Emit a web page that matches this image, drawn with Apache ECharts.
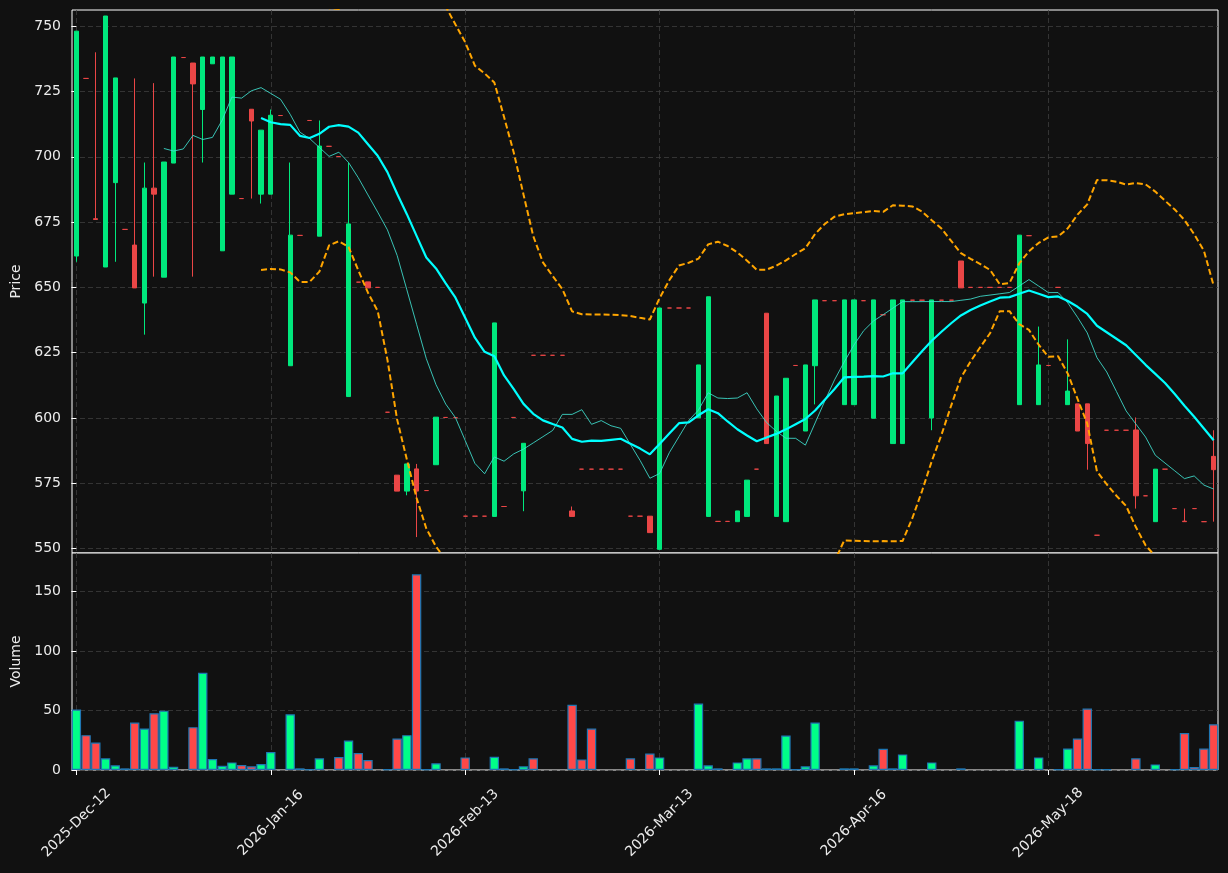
<!DOCTYPE html>
<html>
<head>
<meta charset="utf-8">
<title>Price and volume</title>
<script src="https://cdn.jsdelivr.net/npm/echarts@6/dist/echarts.min.js"></script>
<style>
    html, body { margin: 0; padding: 0; background: #111111; }
    #chart { width: 1228px; height: 873px; }
</style>
</head>
<body>
<div id="chart"></div>
<script>
// Trading days
var dates = [
    '2025-Dec-12','2025-Dec-15','2025-Dec-16','2025-Dec-17','2025-Dec-18','2025-Dec-19','2025-Dec-22','2025-Dec-23','2025-Dec-29','2025-Dec-30',
    '2026-Jan-02','2026-Jan-05','2026-Jan-06','2026-Jan-07','2026-Jan-08','2026-Jan-09','2026-Jan-12','2026-Jan-13','2026-Jan-14','2026-Jan-15',
    '2026-Jan-16','2026-Jan-19','2026-Jan-20','2026-Jan-21','2026-Jan-22','2026-Jan-23','2026-Jan-26','2026-Jan-27','2026-Jan-28','2026-Jan-29',
    '2026-Jan-30','2026-Feb-02','2026-Feb-03','2026-Feb-04','2026-Feb-05','2026-Feb-06','2026-Feb-09','2026-Feb-10','2026-Feb-11','2026-Feb-12',
    '2026-Feb-13','2026-Feb-16','2026-Feb-17','2026-Feb-18','2026-Feb-19','2026-Feb-20','2026-Feb-23','2026-Feb-24','2026-Feb-25','2026-Feb-26',
    '2026-Feb-27','2026-Mar-02','2026-Mar-03','2026-Mar-04','2026-Mar-05','2026-Mar-06','2026-Mar-09','2026-Mar-10','2026-Mar-11','2026-Mar-12',
    '2026-Mar-13','2026-Mar-16','2026-Mar-17','2026-Mar-18','2026-Mar-19','2026-Mar-20','2026-Mar-23','2026-Mar-24','2026-Mar-25','2026-Mar-26',
    '2026-Mar-27','2026-Mar-30','2026-Mar-31','2026-Apr-01','2026-Apr-07','2026-Apr-08','2026-Apr-09','2026-Apr-13','2026-Apr-14','2026-Apr-15',
    '2026-Apr-16','2026-Apr-17','2026-Apr-20','2026-Apr-21','2026-Apr-22','2026-Apr-23','2026-Apr-24','2026-Apr-27','2026-Apr-28','2026-Apr-29',
    '2026-Apr-30','2026-May-04','2026-May-05','2026-May-06','2026-May-07','2026-May-08','2026-May-11','2026-May-12','2026-May-13','2026-May-15',
    '2026-May-18','2026-May-19','2026-May-20','2026-May-21','2026-May-22','2026-May-26','2026-May-27','2026-May-28','2026-May-29','2026-Jun-01',
    '2026-Jun-02','2026-Jun-03','2026-Jun-04','2026-Jun-05','2026-Jun-08','2026-Jun-09','2026-Jun-10','2026-Jun-11'
];

var opens = [
    662, 730, 676.3, 657.8, 690.1, 672.2, 666.2, 644, 688, 653.9,
    697.6, 738, 735.9, 718.1, 735.6, 664, 685.7, 684, 718.2, 685.7,
    685.7, 715.8, 620, 669.9, 713.9, 669.6, 704, 700.1, 608.2, 652,
    652.1, 650, 602.2, 578.1, 572, 580.5, 572.2, 582.1, 600.2, 600.1,
    562.4, 562.4, 562.4, 562.3, 566.1, 600.2, 572.1, 624, 624, 624,
    624, 564.4, 580.4, 580.4, 580.4, 580.4, 580.4, 562.4, 562.4, 562.4,
    549.7, 642.1, 642.1, 642.1, 600.1, 562.3, 560.4, 560.4, 560.3, 562.3,
    580.4, 640.1, 562.3, 560.3, 620.1, 595, 620, 644.9, 644.9, 605.1,
    605.1, 644.9, 599.9, 639.5, 590.2, 590.2, 645.1, 645.1, 600, 645.1,
    645.1, 660.1, 650, 650, 650, 650, 650, 605.1, 669.8, 605.1,
    620.1, 650, 605.1, 605.4, 605.4, 555.1, 595.3, 595.3, 595.3, 595.4,
    570.2, 560.3, 580.4, 565.3, 560.5, 565.3, 560.3, 585.3
];
var highs = [
    748.1, 730, 740, 753.9, 730.2, 672.2, 730, 697.8, 728.2, 698,
    738.2, 738, 735.9, 738.2, 738.2, 738.2, 738.2, 684, 718.2, 710.2,
    718.1, 715.8, 697.8, 669.9, 713.9, 713.9, 704, 700.1, 697.8, 652,
    652.1, 650, 602.2, 578.1, 582.4, 582.4, 572.2, 600.3, 600.2, 600.1,
    562.4, 562.4, 562.4, 636.4, 566.1, 600.2, 590.3, 624, 624, 624,
    624, 566.1, 580.4, 580.4, 580.4, 580.4, 580.4, 562.4, 562.4, 562.4,
    642.1, 642.1, 642.1, 642.1, 620.3, 646.4, 560.4, 560.4, 564.4, 576.2,
    580.4, 640.1, 608.4, 615.2, 620.1, 620.3, 645.2, 644.9, 644.9, 645.2,
    645.2, 644.9, 645.2, 639.5, 645.2, 645.2, 645.1, 645.1, 645.2, 645.1,
    645.1, 660.1, 650, 650, 650, 650, 650, 670, 669.8, 635,
    620.1, 650, 630.1, 605.4, 605.4, 555.1, 595.3, 595.3, 595.3, 600.2,
    570.2, 580.4, 580.4, 565.3, 565.3, 565.3, 560.3, 595.3
];
var lows = [
    659.8, 730, 676, 657.8, 659.8, 672.2, 649.8, 631.9, 654.1, 653.9,
    697.6, 738, 654.1, 697.8, 735.6, 664, 685.7, 684, 684, 682.1,
    685.7, 715.8, 620, 669.9, 713.9, 669.6, 704, 700.1, 608.2, 652,
    649.8, 650, 602.2, 572, 570.4, 554.4, 572.2, 582.1, 600.2, 600.1,
    562.4, 562.4, 562.4, 562.3, 566.1, 600.2, 564.3, 624, 624, 624,
    624, 562.3, 580.4, 580.4, 580.4, 580.4, 580.4, 562.4, 562.4, 556.1,
    549.7, 642.1, 642.1, 642.1, 600.1, 562.3, 560.4, 560.4, 560.3, 562.3,
    580.4, 590.2, 562.3, 560.3, 620.1, 595, 605.2, 644.9, 644.9, 605.1,
    605.1, 644.9, 599.9, 639.5, 590.2, 590.2, 645.1, 645.1, 595.3, 645.1,
    645.1, 649.8, 650, 650, 650, 650, 650, 605.1, 669.8, 605.1,
    620.1, 650, 605.1, 595, 580.2, 555.1, 595.3, 595.3, 595.3, 565.3,
    570.2, 560.3, 580.4, 565.3, 560.3, 565.3, 560.3, 560.3
];
var closes = [
    748.1, 730, 676, 753.9, 730.2, 672.2, 649.8, 688, 685.7, 698,
    738.2, 738, 727.9, 738.2, 738.2, 738.2, 738.2, 684, 713.7, 710.2,
    715.9, 715.8, 670, 669.9, 713.9, 704.1, 704, 700.1, 674.3, 652,
    649.8, 650, 602.2, 572, 582.4, 572, 572.2, 600.3, 600.2, 600.1,
    562.4, 562.4, 562.4, 636.4, 566.1, 600.2, 590.3, 624, 624, 624,
    624, 562.3, 580.4, 580.4, 580.4, 580.4, 580.4, 562.4, 562.4, 556.1,
    642.1, 642.1, 642.1, 642.1, 620.3, 646.4, 560.4, 560.4, 564.4, 576.2,
    580.4, 590.2, 608.4, 615.2, 620.1, 620.3, 645.2, 644.9, 644.9, 645.2,
    645.2, 644.9, 645.2, 639.5, 645.2, 645.2, 645.1, 645.1, 645.2, 645.1,
    645.1, 649.8, 650, 650, 650, 650, 650, 670, 669.8, 620.3,
    620.1, 650, 610.3, 595, 590.2, 555.1, 595.3, 595.3, 595.3, 570.2,
    570.2, 580.4, 580.4, 565.3, 560.3, 565.3, 560.3, 580.2
];
var volumes = [
    50.8, 29.3, 23.1, 9.8, 3.9, 1.4, 39.9, 34.9, 47.7, 49.9,
    2.8, 0, 36, 81.7, 9.2, 3.6, 6.4, 4.2, 3.1, 5,
    15.1, 0, 46.8, 1.4, 0.5, 9.8, 0, 10.9, 24.8, 14.2,
    8.4, 0, 0.5, 26.5, 29.3, 164.5, 0.5, 5.6, 0, 0,
    10.6, 0, 0, 11.2, 1.4, 0.5, 3.1, 9.8, 0, 0,
    0, 54.9, 8.9, 34.9, 0, 0, 0, 9.8, 0, 13.9,
    10.6, 0, 0, 0, 55.8, 3.9, 1.4, 0, 6.4, 9.8,
    9.8, 1.4, 1.4, 29, 0.5, 3.1, 39.9, 0, 0, 1.4,
    1.4, 0, 3.9, 17.8, 1.4, 13.1, 0, 0, 6.4, 0,
    0, 1.4, 0, 0, 0, 0, 0, 41.5, 0, 10.6,
    0, 0.5, 18.1, 26.5, 51.6, 0.5, 0.5, 0, 0, 9.8,
    0, 4.7, 0, 0.5, 31, 2.5, 18.1, 38.5
];

var dateTicks = [0, 20, 40, 60, 80, 100];
var priceTicks = [550, 575, 600, 625, 650, 675, 700, 725, 750];
var volumeTicks = [0, 50, 100, 150];

var UP = '#00e87d', DOWN = '#ea4646';
var VOL_UP = '#00ff88', VOL_DOWN = '#ff4848';
var TEXT = '#ececec';
var FONT = 'DejaVu Sans';

// rolling mean / band of the closes (same indicators as the source chart)
function rolling(values, n, fn) {
    var out = [];
    for (var i = n - 1; i < values.length; i++) {
        out.push([i, fn(values.slice(i - n + 1, i + 1))]);
    }
    return out;
}
function mean(w) {
    var s = 0;
    w.forEach(function (v) { s += v; });
    return s / w.length;
}
function std(w) {
    var m = mean(w), s = 0;
    w.forEach(function (v) { s += (v - m) * (v - m); });
    return Math.sqrt(s / w.length);
}

var ma10 = rolling(closes, 10, mean);
var ma20 = rolling(closes, 20, mean);
var upper = rolling(closes, 20, function (w) { return mean(w) + 2 * std(w); });
var lower = rolling(closes, 20, function (w) { return mean(w) - 2 * std(w); });

var candles = [];
var volBars = [];
dates.forEach(function (d, i) {
    var up = closes[i] > opens[i];
    var c = up ? UP : DOWN;
    candles.push({
        value: [i, opens[i], closes[i], lows[i], highs[i]],
        itemStyle: { color: c, color0: c, borderColor: c, borderColor0: c }
    });
    if (volumes[i] > 0) {
        volBars.push({ value: [i, volumes[i]], itemStyle: { color: up ? VOL_UP : VOL_DOWN } });
    }
});

var gridLine = { show: true, lineStyle: { color: '#3d3d3d', type: [5, 3], width: 0.8 } };
var tick = { show: true, length: 5, lineStyle: { color: '#ffffff', width: 1 } };

var chart = echarts.init(document.getElementById('chart'));
chart.setOption({
    animation: false,
    backgroundColor: '#111111',
    grid: [
        { left: 72, right: 10, top: 10, height: 543, show: true, borderColor: '#ffffff', borderWidth: 1, backgroundColor: '#111111' },
        { left: 72, right: 10, top: 553, height: 217, show: true, borderColor: '#ffffff', borderWidth: 1, backgroundColor: '#111111' }
    ],
    xAxis: [
        {
            type: 'value', gridIndex: 0, min: -0.45, max: 117.45,
            axisLine: { show: false, onZero: false },
            axisTick: { show: false, customValues: dateTicks },
            axisLabel: { show: false, customValues: dateTicks },
            splitLine: gridLine
        },
        {
            type: 'value', gridIndex: 1, min: -0.45, max: 117.45,
            axisLine: { show: false, onZero: false },
            axisTick: Object.assign({ customValues: dateTicks }, tick),
            axisLabel: {
                customValues: dateTicks,
                rotate: 45, align: 'center', verticalAlign: 'middle', margin: 53,
                color: TEXT, fontSize: 14, fontFamily: FONT,
                formatter: function (v) { return dates[v]; }
            },
            splitLine: gridLine
        }
    ],
    yAxis: [
        {
            type: 'value', gridIndex: 0, min: 548.3, max: 756.2,
            name: 'Price', nameLocation: 'middle', nameGap: 47, nameRotate: 90,
            nameTextStyle: { color: TEXT, fontSize: 14, fontFamily: FONT },
            axisLine: { show: false },
            axisTick: Object.assign({ customValues: priceTicks }, tick),
            axisLabel: { customValues: priceTicks, color: TEXT, fontSize: 14, fontFamily: FONT, margin: 11 },
            splitLine: gridLine
        },
        {
            type: 'value', gridIndex: 1, min: 0, max: 182.4,
            name: 'Volume', nameLocation: 'middle', nameGap: 47, nameRotate: 90,
            nameTextStyle: { color: TEXT, fontSize: 14, fontFamily: FONT },
            axisLine: { show: false },
            axisTick: Object.assign({ customValues: volumeTicks }, tick),
            axisLabel: { customValues: volumeTicks, color: TEXT, fontSize: 14, fontFamily: FONT, margin: 11 },
            splitLine: gridLine
        }
    ],
    series: [
        {
            type: 'candlestick', xAxisIndex: 0, yAxisIndex: 0,
            encode: { x: 0, y: [1, 2, 3, 4] },
            barWidth: 4.8,
            itemStyle: { borderWidth: 1 },
            data: candles,
            z: 2
        },
        {
            type: 'line', xAxisIndex: 0, yAxisIndex: 0, data: ma10,
            showSymbol: false, z: 4,
            lineStyle: { color: '#40e0d0', width: 1, opacity: 0.85 }
        },
        {
            type: 'line', xAxisIndex: 0, yAxisIndex: 0, data: ma20,
            showSymbol: false, z: 5,
            lineStyle: { color: '#00ffff', width: 2.2 }
        },
        {
            type: 'line', xAxisIndex: 0, yAxisIndex: 0, data: upper,
            showSymbol: false, z: 3,
            lineStyle: { color: '#ffa500', width: 2, type: [6, 3] }
        },
        {
            type: 'line', xAxisIndex: 0, yAxisIndex: 0, data: lower,
            showSymbol: false, z: 3,
            lineStyle: { color: '#ffa500', width: 2, type: [6, 3] }
        },
        {
            type: 'bar', xAxisIndex: 1, yAxisIndex: 1,
            barWidth: 9.4, barMaxWidth: 9.4,
            itemStyle: { borderColor: '#1f77b4', borderWidth: 1.2 },
            data: volBars
        }
    ]
});
</script>
</body>
</html>
